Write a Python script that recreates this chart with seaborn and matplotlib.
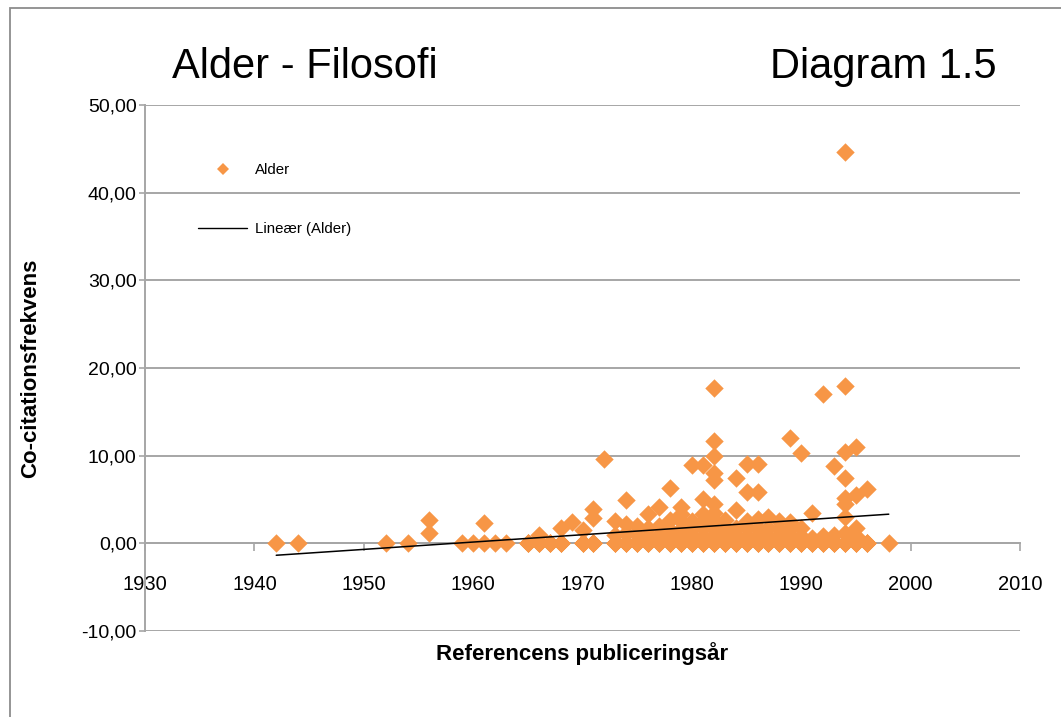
import numpy as np
import pandas as pd
import matplotlib
matplotlib.use("Agg")
import matplotlib.pyplot as plt
from matplotlib.ticker import FuncFormatter
from matplotlib.patches import Rectangle
from matplotlib.lines import Line2D
import seaborn as sns

# Publiceringsår og co-citationsfrekvens (aflæst punkt for punkt, grupperet pr. år)
aar = (
    [1942, 1944, 1952, 1954, 1956, 1956, 1959, 1960, 1961, 1961, 1962, 1963,
     1965, 1966, 1966, 1967, 1968, 1968, 1969, 1970, 1970,
     1971, 1971, 1971, 1972, 1973, 1973, 1973]
    + [1974] * 4 + [1975] * 3 + [1976] * 4 + [1977] * 4 + [1978] * 5
    + [1979] * 6 + [1980] * 5 + [1981] * 7 + [1982] * 11 + [1983] * 4
    + [1984] * 5 + [1985] * 6 + [1986] * 6 + [1987] * 4 + [1988] * 4
    + [1989] * 5 + [1990] * 4 + [1991] * 3 + [1992] * 3 + [1993] * 3
    + [1994] * 9 + [1995] * 5 + [1996] * 2 + [1998]
)
frekvens = (
    [0, 0, 0, 0, 1.2, 2.7, 0, 0, 0, 2.3, 0, 0,
     0, 0, 0.9, 0, 0, 1.8, 2.4, 0, 1.5,
     0, 2.9, 3.9, 9.6, 0, 1.0, 2.6]
    + [0, 1.2, 2.2, 4.9]                                   # 1974
    + [0, 1.0, 2.0]                                        # 1975
    + [0, 0.8, 1.8, 3.4]                                   # 1976
    + [0, 1.0, 2.0, 4.1]                                   # 1977
    + [0, 0.7, 1.5, 2.7, 6.3]                              # 1978
    + [0, 0.8, 1.6, 2.5, 3.4, 4.1]                         # 1979
    + [0, 0.9, 1.8, 2.6, 8.9]                              # 1980
    + [0, 0.8, 1.7, 2.6, 3.4, 5.1, 8.9]                    # 1981
    + [0, 0.9, 1.8, 2.7, 3.5, 4.5, 7.2, 8.0, 10.0, 11.7, 17.7]  # 1982
    + [0, 0.9, 1.8, 2.7]                                   # 1983
    + [0, 0.9, 1.8, 3.8, 7.4]                              # 1984
    + [0, 0.8, 1.7, 2.6, 5.8, 9.1]                         # 1985
    + [0, 0.9, 1.8, 2.8, 5.8, 9.1]                         # 1986
    + [0, 0.8, 1.7, 3.0]                                   # 1987
    + [0, 0.8, 1.6, 2.6]                                   # 1988
    + [0, 0.8, 1.6, 2.4, 12.0]                             # 1989
    + [0, 0.8, 1.7, 10.3]                                  # 1990
    + [0, 0.6, 3.5]                                        # 1991
    + [0, 0.8, 17.0]                                       # 1992
    + [0, 1.0, 8.8]                                        # 1993
    + [0, 1.2, 3.0, 4.5, 5.2, 7.4, 10.4, 17.9, 44.6]       # 1994
    + [0, 0.8, 1.8, 5.5, 11.0]                             # 1995
    + [0, 6.2]                                             # 1996
    + [0]                                                  # 1998
)

# referencer med frekvens 0 der ligger skjult under de synlige 0-punkter
# (skønnet ud fra hvor den lineære tendenslinje ligger)
nul_aar = [
    1965, 1965, 1965, 1966, 1966, 1966, 1967, 1967, 1967, 1968, 1968, 1968,
    1970, 1970, 1970, 1971, 1971, 1971, 1973, 1973, 1973, 1974, 1974, 1974,
    1975, 1975, 1975, 1976, 1976, 1976, 1977, 1977, 1977, 1978, 1978, 1978,
    1979, 1979, 1979, 1980, 1980, 1980, 1981, 1981, 1981, 1982, 1982, 1982,
    1983, 1983, 1983, 1984, 1984, 1984, 1985, 1985, 1985, 1986, 1986, 1986,
    1987, 1987, 1987, 1988, 1988, 1988, 1989, 1989, 1989, 1990, 1990, 1990,
    1991, 1991, 1991, 1992, 1992, 1992, 1993, 1993, 1993, 1994, 1994, 1994,
    1995, 1995, 1995, 1996, 1996, 1996,
]

x_ticks = [1930, 1940, 1950, 1960, 1970, 1980, 1990, 2000, 2010]
y_ticks = [-10, 0, 10, 20, 30, 40, 50]

df = pd.DataFrame({"aar": aar + nul_aar,
                   "frekvens": frekvens + [0.0] * len(nul_aar)})

sns.set_theme(style="white")
plt.rcParams["font.family"] = ["Liberation Sans", "DejaVu Sans"]
plt.rcParams["text.color"] = "black"
plt.rcParams["xtick.color"] = "black"
plt.rcParams["ytick.color"] = "black"

orange = "#F79646"
grey = "#A6A6A6"

fig = plt.figure(figsize=(10.61, 7.17), dpi=100)
ax = fig.add_axes([145 / 1061, 1 - 631 / 717, 875 / 1061, 526 / 717])

sns.scatterplot(data=df, x="aar", y="frekvens", marker="D", s=88, color=orange,
                linewidth=0, ax=ax, zorder=3, legend=False)
sns.regplot(data=df, x="aar", y="frekvens", scatter=False, ci=None, ax=ax,
            line_kws={"color": "black", "linewidth": 1.1, "zorder": 4})

ax.set_xlim(1930, 2010)
ax.set_ylim(-10, 50)
ax.set_xticks(x_ticks)
ax.set_yticks(y_ticks)
ax.yaxis.set_major_formatter(FuncFormatter(lambda v, p: f"{v:.2f}".replace(".", ",")))

ax.grid(axis="y", color=grey, linewidth=1.4)
ax.set_axisbelow(True)
for s in ["top", "right"]:
    ax.spines[s].set_visible(False)
ax.spines["bottom"].set_position(("data", 0))
ax.spines["bottom"].set_color(grey)
ax.spines["left"].set_color(grey)
ax.spines["bottom"].set_linewidth(1.4)
ax.spines["left"].set_linewidth(1.4)
ax.tick_params(axis="x", direction="out", length=6, width=1.2, color=grey,
               labelcolor="black", pad=17, labelsize=14.5, bottom=True)
ax.tick_params(axis="y", direction="out", length=4, width=1.2, color=grey,
               labelcolor="black", pad=2, labelsize=14, left=True)
ax.set_xlabel("")
ax.set_ylabel("")

handles = [
    Line2D([], [], marker="D", linestyle="none", color=orange, markersize=6.5,
           markeredgewidth=0),
    Line2D([], [], color="black", linewidth=1.0),
]
ax.legend(handles, ["Alder", "Lineær (Alder)"], loc="upper left",
          bbox_to_anchor=(0.045, 0.915), frameon=False, fontsize=10.8,
          handlelength=3.3, handletextpad=0.5, labelspacing=3.0)

fig.text(172 / 1061, 1 - 78 / 717, "Alder - Filosofi", fontsize=30, va="baseline", ha="left")
fig.text(997 / 1061, 1 - 78 / 717, "Diagram 1.5", fontsize=30, va="baseline", ha="right")
fig.text(582 / 1061, 1 - 654 / 717, "Referencens publiceringsår", fontsize=16,
         fontweight="bold", ha="center", va="center")
fig.text(31 / 1061, 1 - 368 / 717, "Co-citationsfrekvens", fontsize=16,
         fontweight="bold", ha="center", va="center", rotation=90)

# grå ramme om diagramområdet
fig.patches.append(Rectangle((10 / 1061, -0.05), 1.1, 1 - 8 / 717 + 0.05,
                             transform=fig.transFigure, fill=False,
                             edgecolor="#8C8C8C", linewidth=1.3))

fig.savefig("out.png", dpi=100)
